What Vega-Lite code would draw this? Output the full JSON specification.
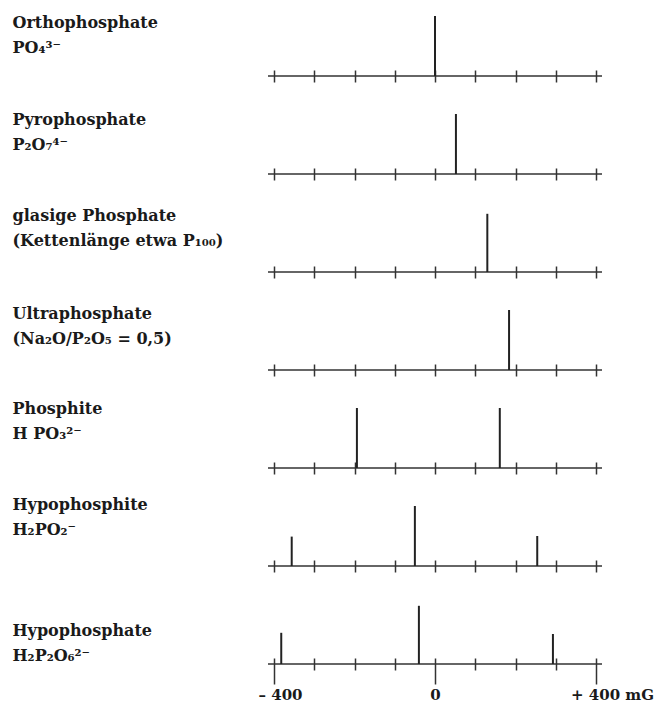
{
  "$schema": "https://vega.github.io/schema/vega-lite/v6.json",
  "background": "white",
  "padding": {"left": 12, "top": 14, "right": 0, "bottom": 0},
  "datasets": {
    "peaks": [
      {"compound": "ortho", "shift": 0, "intensity": 1},
      {"compound": "pyro", "shift": 52, "intensity": 1},
      {"compound": "glas", "shift": 130, "intensity": 0.97},
      {"compound": "ultra", "shift": 184, "intensity": 1},
      {"compound": "phosphit", "shift": -194, "intensity": 1},
      {"compound": "phosphit", "shift": 161, "intensity": 1},
      {"compound": "hypophosphit", "shift": -356, "intensity": 0.49},
      {"compound": "hypophosphit", "shift": -50, "intensity": 1},
      {"compound": "hypophosphit", "shift": 254, "intensity": 0.5},
      {"compound": "hypophosphat", "shift": -382, "intensity": 0.52},
      {"compound": "hypophosphat", "shift": -40, "intensity": 0.97},
      {"compound": "hypophosphat", "shift": 293, "intensity": 0.5}
    ]
  },
  "vconcat": [
    {
      "width": 334, "height": 60,
      "layer": [
        {"data": {"values": [{}]}, "mark": {"type": "rule", "color": "#333", "strokeWidth": 1.5}, "encoding": {"y": {"datum": 0, "type": "quantitative"}}},
        {"data": {"name": "peaks"}, "transform": [{"filter": "datum.compound === 'ortho'"}],
          "mark": {"type": "rule", "color": "#222", "strokeWidth": 2},
          "encoding": {
            "x": {"field": "shift", "type": "quantitative", "scale": {"domain": [-400, 400], "padding": 6, "nice": false, "zero": false},
              "axis": {"values": [-400,-300,-200,-100,0,100,200,300,400], "labels": false, "domain": false, "title": null, "grid": false, "tickSize": 12, "offset": -6}},
            "y": {"field": "intensity", "type": "quantitative", "scale": {"domain": [0, 1], "nice": false},
              "axis": {"title": ["Orthophosphate", "PO₄³⁻"], "titleY": 11}},
            "y2": {"datum": 0}
          }}
      ]
    },
    {
      "width": 334, "height": 60,
      "layer": [
        {"data": {"values": [{}]}, "mark": {"type": "rule", "color": "#333", "strokeWidth": 1.5}, "encoding": {"y": {"datum": 0, "type": "quantitative"}}},
        {"data": {"name": "peaks"}, "transform": [{"filter": "datum.compound === 'pyro'"}],
          "mark": {"type": "rule", "color": "#222", "strokeWidth": 2},
          "encoding": {
            "x": {"field": "shift", "type": "quantitative", "scale": {"domain": [-400, 400], "padding": 6, "nice": false, "zero": false},
              "axis": {"values": [-400,-300,-200,-100,0,100,200,300,400], "labels": false, "domain": false, "title": null, "grid": false, "tickSize": 12, "offset": -6}},
            "y": {"field": "intensity", "type": "quantitative", "scale": {"domain": [0, 1], "nice": false},
              "axis": {"title": ["Pyrophosphate", "P₂O₇⁴⁻"], "titleY": 10}},
            "y2": {"datum": 0}
          }}
      ]
    },
    {
      "width": 334, "height": 60,
      "layer": [
        {"data": {"values": [{}]}, "mark": {"type": "rule", "color": "#333", "strokeWidth": 1.5}, "encoding": {"y": {"datum": 0, "type": "quantitative"}}},
        {"data": {"name": "peaks"}, "transform": [{"filter": "datum.compound === 'glas'"}],
          "mark": {"type": "rule", "color": "#222", "strokeWidth": 2},
          "encoding": {
            "x": {"field": "shift", "type": "quantitative", "scale": {"domain": [-400, 400], "padding": 6, "nice": false, "zero": false},
              "axis": {"values": [-400,-300,-200,-100,0,100,200,300,400], "labels": false, "domain": false, "title": null, "grid": false, "tickSize": 12, "offset": -6}},
            "y": {"field": "intensity", "type": "quantitative", "scale": {"domain": [0, 1], "nice": false},
              "axis": {"title": ["glasige Phosphate", "(Kettenlänge etwa P₁₀₀)"], "titleY": 8}},
            "y2": {"datum": 0}
          }}
      ]
    },
    {
      "width": 334, "height": 60,
      "layer": [
        {"data": {"values": [{}]}, "mark": {"type": "rule", "color": "#333", "strokeWidth": 1.5}, "encoding": {"y": {"datum": 0, "type": "quantitative"}}},
        {"data": {"name": "peaks"}, "transform": [{"filter": "datum.compound === 'ultra'"}],
          "mark": {"type": "rule", "color": "#222", "strokeWidth": 2},
          "encoding": {
            "x": {"field": "shift", "type": "quantitative", "scale": {"domain": [-400, 400], "padding": 6, "nice": false, "zero": false},
              "axis": {"values": [-400,-300,-200,-100,0,100,200,300,400], "labels": false, "domain": false, "title": null, "grid": false, "tickSize": 12, "offset": -6}},
            "y": {"field": "intensity", "type": "quantitative", "scale": {"domain": [0, 1], "nice": false},
              "axis": {"title": ["Ultraphosphate", "(Na₂O/P₂O₅ = 0,5)"], "titleY": 8}},
            "y2": {"datum": 0}
          }}
      ]
    },
    {
      "width": 334, "height": 60,
      "layer": [
        {"data": {"values": [{}]}, "mark": {"type": "rule", "color": "#333", "strokeWidth": 1.5}, "encoding": {"y": {"datum": 0, "type": "quantitative"}}},
        {"data": {"name": "peaks"}, "transform": [{"filter": "datum.compound === 'phosphit'"}],
          "mark": {"type": "rule", "color": "#222", "strokeWidth": 2},
          "encoding": {
            "x": {"field": "shift", "type": "quantitative", "scale": {"domain": [-400, 400], "padding": 6, "nice": false, "zero": false},
              "axis": {"values": [-400,-300,-200,-100,0,100,200,300,400], "labels": false, "domain": false, "title": null, "grid": false, "tickSize": 12, "offset": -6}},
            "y": {"field": "intensity", "type": "quantitative", "scale": {"domain": [0, 1], "nice": false},
              "axis": {"title": ["Phosphite", "H PO₃²⁻"], "titleY": 5}},
            "y2": {"datum": 0}
          }}
      ]
    },
    {
      "width": 334, "height": 60,
      "layer": [
        {"data": {"values": [{}]}, "mark": {"type": "rule", "color": "#333", "strokeWidth": 1.5}, "encoding": {"y": {"datum": 0, "type": "quantitative"}}},
        {"data": {"name": "peaks"}, "transform": [{"filter": "datum.compound === 'hypophosphit'"}],
          "mark": {"type": "rule", "color": "#222", "strokeWidth": 2},
          "encoding": {
            "x": {"field": "shift", "type": "quantitative", "scale": {"domain": [-400, 400], "padding": 6, "nice": false, "zero": false},
              "axis": {"values": [-400,-300,-200,-100,0,100,200,300,400], "labels": false, "domain": false, "title": null, "grid": false, "tickSize": 12, "offset": -6}},
            "y": {"field": "intensity", "type": "quantitative", "scale": {"domain": [0, 1], "nice": false},
              "axis": {"title": ["Hypophosphite", "H₂PO₂⁻"], "titleY": 3}},
            "y2": {"datum": 0}
          }}
      ]
    },
    {
      "width": 334, "height": 60,
      "layer": [
        {"data": {"values": [{}]}, "mark": {"type": "rule", "color": "#333", "strokeWidth": 1.5}, "encoding": {"y": {"datum": 0, "type": "quantitative"}}},
        {"data": {"name": "peaks"}, "transform": [{"filter": "datum.compound === 'hypophosphat'"}],
          "mark": {"type": "rule", "color": "#222", "strokeWidth": 2},
          "encoding": {
            "x": {"field": "shift", "type": "quantitative", "scale": {"domain": [-400, 400], "padding": 6, "nice": false, "zero": false},
              "axis": {"values": [-400,-300,-200,-100,0,100,200,300,400], "domain": false, "title": null, "grid": false, "offset": -6,
                "tickSize": {"condition": {"test": "datum.value % 400 === 0", "value": 26}, "value": 12},
                "labels": true,
                "labelExpr": "datum.value === -400 ? '– 400' : datum.value === 0 ? '0' : datum.value === 400 ? '+ 400 mG' : ''",
                "labelFont": "DejaVu Serif", "labelFontSize": 15, "labelFontWeight": "bold", "labelColor": "#1a1a1a",
                "labelBaseline": "alphabetic", "labelPadding": 15, "labelFlush": false, "labelOverlap": false, "labelAngle": 0,
                "labelOffset": {"condition": [{"test": "datum.value === -400", "value": 6}, {"test": "datum.value === 400", "value": 16}], "value": 0}}},
            "y": {"field": "intensity", "type": "quantitative", "scale": {"domain": [0, 1], "nice": false},
              "axis": {"title": ["Hypophosphate", "H₂P₂O₆²⁻"], "titleY": 31}},
            "y2": {"datum": 0}
          }}
      ]
    }
  ],
  "spacing": 38,
  "bounds": "flush",
  "config": {
    "view": {"stroke": null},
    "axisX": {"tickColor": "#333", "tickWidth": 1.5},
    "axisY": {"domain": false, "ticks": false, "labels": false, "grid": false,
      "titleAngle": 0, "titleAlign": "left", "titleBaseline": "alphabetic", "titleX": -256,
      "titleFont": "DejaVu Serif", "titleFontSize": 16, "titleFontWeight": "bold", "titleColor": "#1a1a1a", "titleLineHeight": 25}
  }
}
